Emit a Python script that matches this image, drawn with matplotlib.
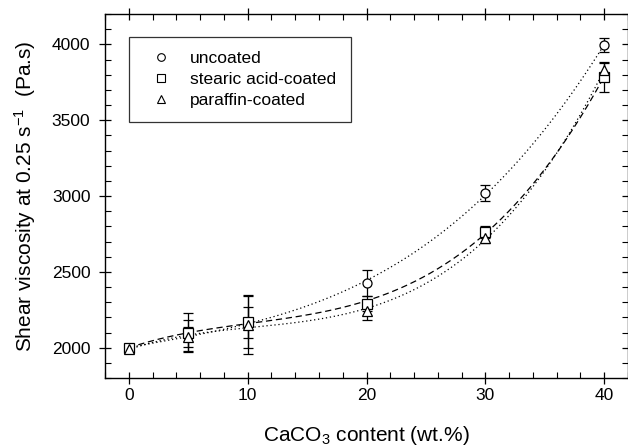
import numpy as np
import matplotlib
matplotlib.use("Agg")
import matplotlib.pyplot as plt
from matplotlib.lines import Line2D
from matplotlib.ticker import MultipleLocator

plt.rcParams['font.family'] = ['Liberation Sans', 'DejaVu Sans']
plt.rcParams['mathtext.fontset'] = 'custom'
plt.rcParams['mathtext.rm'] = 'Liberation Sans'
plt.rcParams['mathtext.it'] = 'Liberation Sans:italic'

content = [0, 5, 10, 20, 30, 40]

uncoated = [1995, 2080, 2165, 2425, 3020, 3995]
uncoated_err = [10, 100, 100, 85, 55, 48]

stearic = [1995, 2100, 2170, 2290, 2765, 3785]
stearic_err = [10, 130, 170, 50, 40, 100]

paraffin = [1990, 2070, 2150, 2245, 2720, 3830]
paraffin_err = [10, 65, 195, 60, 30, 50]

series = [
    ("uncoated", uncoated, uncoated_err, "o", (0, (1, 2.2))),
    ("stearic acid-coated", stearic, stearic_err, "s", (0, (5, 3))),
    ("paraffin-coated", paraffin, paraffin_err, "^", (0, (1, 2.2))),
]

fig = plt.figure(figsize=(6.28, 4.46), dpi=100)
ax = fig.add_axes([105 / 628, 1 - 378 / 446, 523 / 628, 364 / 446])

xs = np.linspace(0, 40, 200)
handles = []
for name, vals, errs, mk, ls in series:
    coef = np.polyfit(content, vals, 3)
    ax.plot(xs, np.polyval(coef, xs), color="black", lw=0.9, ls=ls, zorder=2)
    ax.errorbar(content, vals, yerr=errs, fmt="none", ecolor="black",
                elinewidth=0.9, capsize=3.5, capthick=0.9, zorder=3)
    ax.plot(content, vals, ls="none", marker=mk, ms=6.5 if mk != "^" else 7,
            mfc="white", mec="black", mew=0.9, zorder=4)
    handles.append(Line2D([], [], ls="none", marker=mk, ms=5.5, mfc="white",
                          mec="black", mew=0.8, label=name))

ax.set_xlim(-2, 42)
ax.set_ylim(1800, 4200)
ax.set_xticks([0, 10, 20, 30, 40])
ax.set_yticks([2000, 2500, 3000, 3500, 4000])
ax.xaxis.set_minor_locator(MultipleLocator(2))
ax.yaxis.set_minor_locator(MultipleLocator(100))
ax.tick_params(which="major", direction="inout", length=9, width=0.9,
               top=True, right=True, labelsize=12.5)
ax.tick_params(axis="x", which="major", pad=3)
ax.tick_params(axis="y", which="major", pad=6)
ax.tick_params(which="minor", direction="in", length=4, width=0.8,
               top=True, right=True)
for sp in ax.spines.values():
    sp.set_linewidth(1.0)

ax.set_xlabel("CaCO$_3$ content (wt.%)", fontsize=15, labelpad=15)
ax.set_ylabel("Shear viscosity at 0.25 s$^{-1}$  (Pa.s)", fontsize=15, labelpad=10)

leg = ax.legend(handles=handles, loc="upper left", bbox_to_anchor=(0.046, 0.937),
                fontsize=12.5, frameon=True, fancybox=False, borderpad=0.82,
                handlelength=2.0, handletextpad=0.7, labelspacing=0.33,
                borderaxespad=0)
leg.get_frame().set_edgecolor("black")
leg.get_frame().set_linewidth(0.9)

fig.savefig("out.png", dpi=100)
